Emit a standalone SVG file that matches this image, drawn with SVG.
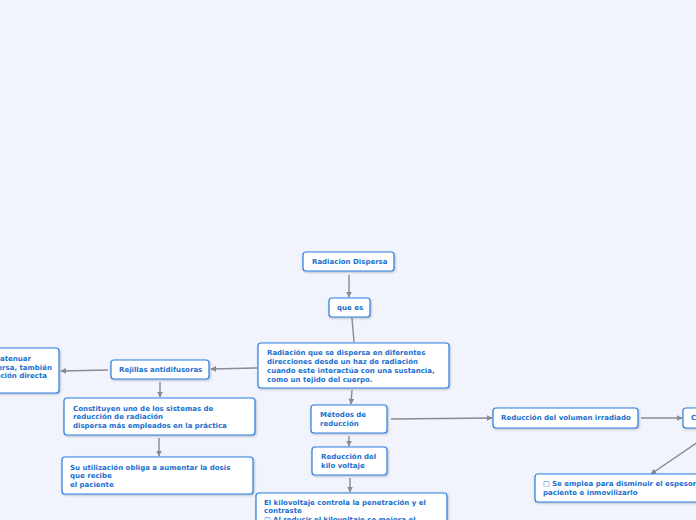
<svg xmlns="http://www.w3.org/2000/svg" width="696" height="520" viewBox="0 0 696 520">
<defs>
<marker id="ah" viewBox="0 0 10 10" refX="9" refY="5" markerWidth="6" markerHeight="6" markerUnits="userSpaceOnUse" orient="auto"><path d="M0,0 L10,5 L0,10 z" fill="#8a8a8f"/></marker>
<filter id="sh" x="-10%" y="-10%" width="130%" height="140%"><feDropShadow dx="0.8" dy="1" stdDeviation="0.8" flood-color="#000" flood-opacity="0.25"/></filter>
</defs>
<style>
.bg{fill:#f1f4fc}
.n rect{fill:#ffffff;stroke:#2a7de1;stroke-width:1.2;filter:url(#sh)}
.n text{font-family:"DejaVu Sans",Verdana,sans-serif;font-weight:bold;font-size:7px;fill:#1a6fd0}
.c path{fill:none;stroke:#8a8a8f;stroke-width:1.4}
</style>
<rect class="bg" x="0" y="0" width="696" height="520"/>
<g class="c">
<path d="M349,275 L349,297" marker-end="url(#ah)"/>
<path d="M352,318 L354,342"/>
<path d="M257,368 L211,369" marker-end="url(#ah)"/>
<path d="M108,370 L61,371" marker-end="url(#ah)"/>
<path d="M160,382 L160,397" marker-end="url(#ah)"/>
<path d="M159,438 L159,456" marker-end="url(#ah)"/>
<path d="M352,390 L351,404" marker-end="url(#ah)"/>
<path d="M349,436 L349,446" marker-end="url(#ah)"/>
<path d="M350,478 L350,492" marker-end="url(#ah)"/>
<path d="M391,419 L492,418" marker-end="url(#ah)"/>
<path d="M641,418 L682,418" marker-end="url(#ah)"/>
<path d="M698,442 L651,474" marker-end="url(#ah)"/>
</g>
<g id="n1" class="n"><rect x="303" y="252" width="91" height="19" rx="3"/><text x="312" y="264">Radiacion Dispersa</text></g>
<g id="n2" class="n"><rect x="329" y="298" width="41" height="19" rx="3"/><text x="337" y="310">que es</text></g>
<g id="n3" class="n"><rect x="258" y="343" width="191" height="45" rx="3"/>
<text x="267" y="355">Radiación que se dispersa en diferentes</text>
<text x="267" y="364">direcciones desde un haz de radiación</text>
<text x="267" y="373">cuando este interactúa con una sustancia,</text>
<text x="267" y="382">como un tejido del cuerpo.</text></g>
<g id="n4" class="n"><rect x="111" y="360" width="98" height="19" rx="3"/><text x="119" y="372">Rejillas antidifusoras</text></g>
<g id="n5" class="n"><rect x="-10" y="348" width="69" height="45" rx="3"/>
<text x="31" y="361" text-anchor="end">Sirven para atenuar</text>
<text x="52" y="370" text-anchor="end">la radiación dispersa, también</text>
<text x="47" y="378" text-anchor="end">la radiación directa</text></g>
<g id="n6" class="n"><rect x="64" y="398" width="191" height="37" rx="3"/>
<text x="73" y="411">Constituyen uno de los sistemas de</text>
<text x="73" y="419">reducción de radiación</text>
<text x="73" y="428">dispersa más empleados en la práctica</text></g>
<g id="n7" class="n"><rect x="62" y="457" width="191" height="37" rx="3"/>
<text x="70" y="470">Su utilización obliga a aumentar la dosis</text>
<text x="70" y="478">que recibe</text>
<text x="70" y="487">el paciente</text></g>
<g id="n8" class="n"><rect x="311" y="405" width="76" height="28" rx="3"/>
<text x="320" y="417">Métodos de</text>
<text x="320" y="426">reducción</text></g>
<g id="n9" class="n"><rect x="312" y="447" width="75" height="28" rx="3"/>
<text x="321" y="459">Reducción del</text>
<text x="321" y="468">kilo voltaje</text></g>
<g id="n10" class="n"><rect x="256" y="493" width="191" height="40" rx="3"/>
<text x="264" y="505">El kilovoltaje controla la penetración y el</text>
<text x="264" y="513">contraste</text>
<text x="264" y="522">□ Al reducir el kilovoltaje se mejora el</text></g>
<g id="n11" class="n"><rect x="493" y="408" width="145" height="20" rx="3"/><text x="501" y="420">Reducción del volumen irradiado</text></g>
<g id="n12" class="n"><rect x="683" y="408" width="30" height="20" rx="3"/><text x="691" y="420">Compresión</text></g>
<g id="n13" class="n"><rect x="535" y="474" width="175" height="28" rx="3"/>
<text x="543" y="486">□ Se emplea para disminuir el espesor del</text>
<text x="543" y="495">paciente e inmovilizarlo</text></g>
</svg>
